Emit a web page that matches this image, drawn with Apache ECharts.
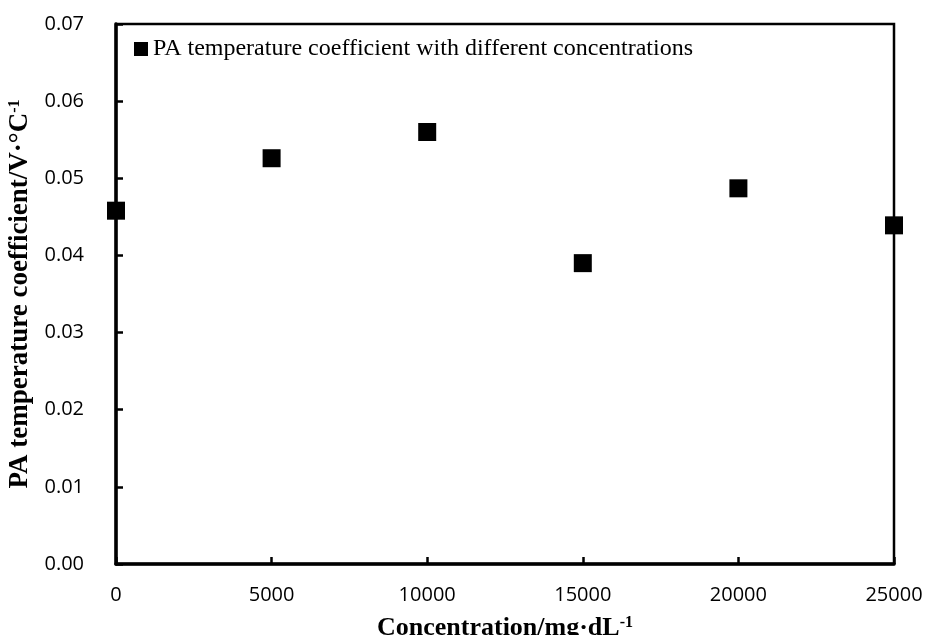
<!DOCTYPE html>
<html>
<head>
<meta charset="utf-8">
<script src="https://cdn.jsdelivr.net/npm/echarts@6/dist/echarts.min.js"></script>
<style>
    html, body { margin: 0; padding: 0; background: #fff; }
    #chart { width: 930px; height: 635px; }
</style>
</head>
<body>
<div id="chart"></div>
<script>
// 浓度 (mg/dL) 与温度系数
const concentrations = [0, 5000, 10000, 15000, 20000, 25000];
const tempCoef = [0.0458, 0.0526, 0.0560, 0.0390, 0.0487, 0.0439];
const seriesName = 'PA temperature coefficient with different concentrations';
const xTitle = 'Concentration/mg·dL';
const yTitle = 'PA temperature coefficient/V·°C';

const serif = '"Liberation Serif", "Times New Roman", serif';
const sans = '"Open Sans", "Noto Sans", sans-serif';

const chart = echarts.init(document.getElementById('chart'));

const supStyle = {
    fontSize: 16,
    fontWeight: 'bold',
    fontFamily: serif,
    color: '#000',
    verticalAlign: 'top',
    lineHeight: 16
};

const option = {
    backgroundColor: '#fff',
    animation: false,
    grid: {
        left: 116,
        right: 36,
        top: 24,
        bottom: 71,
        outerBoundsMode: 'none',
        containLabel: false,
        show: true,
        borderColor: '#000',
        borderWidth: 2.5
    },
    legend: {
        left: 134,
        top: 37,
        padding: 0,
        itemWidth: 14,
        itemHeight: 14,
        icon: 'rect',
        textStyle: {
            fontFamily: serif,
            fontSize: 24,
            color: '#000'
        },
        data: [seriesName]
    },
    xAxis: {
        type: 'value',
        min: 0,
        max: 25000,
        interval: 5000,
        name: xTitle + '{sup|-1}',
        nameLocation: 'middle',
        nameGap: 51,
        nameTextStyle: {
            fontFamily: serif,
            fontWeight: 'bold',
            fontSize: 26,
            color: '#000',
            rich: { sup: supStyle }
        },
        splitLine: { show: false },
        //坐标轴线
        axisLine: { lineStyle: { color: '#000', width: 3.5 } },
        axisTick: { inside: true, length: 7, lineStyle: { color: '#000', width: 2.5 } },
        axisLabel: {
            margin: 21,
            fontFamily: sans,
            fontSize: 20,
            color: '#000',
            formatter: v => String(v)
        }
    },
    yAxis: {
        type: 'value',
        min: 0,
        max: 0.07,
        interval: 0.01,
        name: yTitle + '{sup|-1}',
        nameLocation: 'middle',
        nameRotate: 90,
        nameGap: 76,
        nameTextStyle: {
            fontFamily: serif,
            fontWeight: 'bold',
            fontSize: 27,
            color: '#000',
            rich: { sup: supStyle }
        },
        splitLine: { show: false },
        axisLine: { show: true, lineStyle: { color: '#000', width: 3.5 } },
        axisTick: { show: true, inside: true, length: 7, lineStyle: { color: '#000', width: 2.5 } },
        axisLabel: {
            margin: 32,
            fontFamily: sans,
            fontSize: 20,
            color: '#000',
            formatter: v => v.toFixed(2)
        }
    },
    series: [
        {
            name: seriesName,
            type: 'scatter',
            symbol: 'rect',
            symbolSize: 18,
            itemStyle: { color: '#000', opacity: 1 },
            data: concentrations.map((c, i) => [c, tempCoef[i]])
        }
    ]
};

chart.setOption(option);
</script>
</body>
</html>
